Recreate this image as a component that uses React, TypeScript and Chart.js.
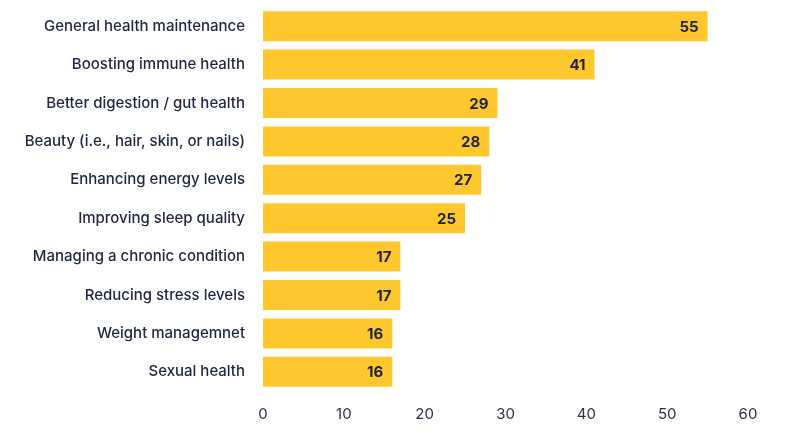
import React, { useEffect, useRef } from "react";
import { Chart, registerables } from "chart.js";

Chart.register(...registerables);

const categories = [
  "General health maintenance",
  "Boosting immune health",
  "Better digestion / gut health",
  "Beauty (i.e., hair, skin, or nails)",
  "Enhancing energy levels",
  "Improving sleep quality",
  "Managing a chronic condition",
  "Reducing stress levels",
  "Weight managemnet",
  "Sexual health",
];
const values = [55, 41, 29, 28, 27, 25, 17, 17, 16, 16];
const xMin = 0;
const xMax = 60;
const xStep = 10;

const FONT = "Inter, 'Noto Sans', sans-serif";
const TEXT = "#1d2642";
const BAR = "#FFC72E";

const valueLabels = {
  id: "valueLabels",
  afterDatasetsDraw(chart: any) {
    const ctx = chart.ctx;
    const meta = chart.getDatasetMeta(0);
    ctx.save();
    ctx.font = `700 15px ${FONT}`;
    ctx.fillStyle = "#1f2333";
    ctx.textAlign = "right";
    ctx.textBaseline = "middle";
    meta.data.forEach((bar: any, i: number) => {
      ctx.fillText(String(values[i]), bar.x - 9, bar.y + 1);
    });
    ctx.restore();
  },
};

export default function App() {
  const ref = useRef<HTMLCanvasElement>(null);
  useEffect(() => {
    document.body.style.margin = "0";
    const chart = new Chart(ref.current!, {
      type: "bar",
      data: {
        labels: categories,
        datasets: [
          {
            data: values,
            backgroundColor: BAR,
            borderWidth: 0,
            barPercentage: 0.78,
            categoryPercentage: 1,
          },
        ],
      },
      options: {
        indexAxis: "y",
        animation: false,
        responsive: false,
        maintainAspectRatio: false,
        layout: { padding: { top: 7, right: 48, bottom: 3, left: 0 } },
        plugins: { legend: { display: false }, tooltip: { enabled: false } },
        scales: {
          x: {
            min: xMin,
            max: xMax,
            grid: { display: false, drawTicks: false },
            border: { display: false },
            ticks: {
              stepSize: xStep,
              padding: 14,
              color: "#2a3046",
              font: { family: FONT, size: 15 },
            },
          },
          y: {
            grid: { display: false, drawTicks: false },
            border: { display: false },
            afterFit: (scale: any) => {
              scale.width = 263;
              scale.paddingTop = 0;
              scale.paddingBottom = 0;
            },
            ticks: {
              padding: 18,
              color: TEXT,
              font: { family: FONT, size: 15, weight: 500 },
            },
          },
        },
      },
      plugins: [valueLabels],
    });
    return () => chart.destroy();
  }, []);
  return <canvas ref={ref} width={796} height={440} style={{ display: "block" }} />;
}
